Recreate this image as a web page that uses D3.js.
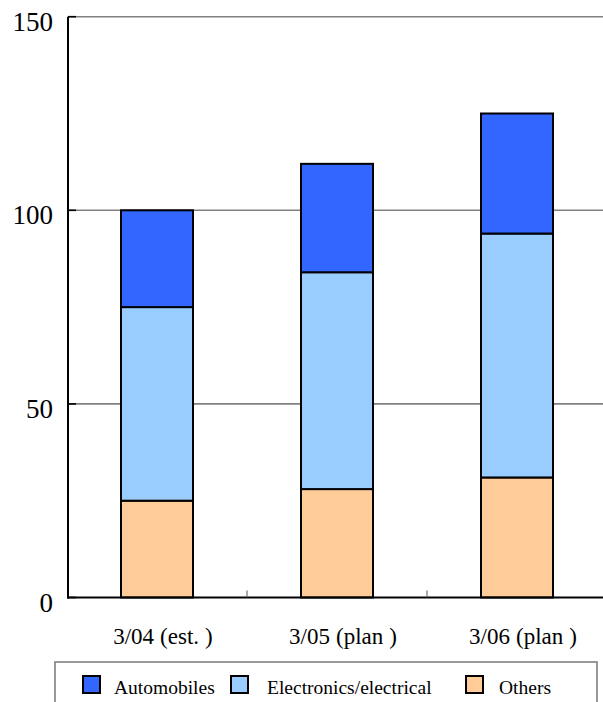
<!DOCTYPE html>
<html>
<head>
<meta charset="utf-8">
<script src="https://cdn.jsdelivr.net/npm/d3@7/dist/d3.min.js"></script>
<style>
  html, body { margin: 0; padding: 0; background: #fff; }
  svg { display: block; }
</style>
</head>
<body>
<svg id="chart" width="603" height="702"></svg>
<script>
// Fiscal periods on the horizontal axis
const categories = ["3/04", "3/05", "3/06"];
const categoryNotes = ["est.", "plan", "plan"];

// Stacked segments, bottom to top
const seriesNames = ["Others", "Electronics/electrical", "Automobiles"];
const others = [25, 28, 31];
const electronics = [50, 56, 63];
const automobiles = [25, 28, 31];

const yTicks = [0, 50, 100, 150];

const colors = {
  "Automobiles": "#3366ff",
  "Electronics/electrical": "#99ccff",
  "Others": "#ffcc99"
};
const legendOrder = ["Automobiles", "Electronics/electrical", "Others"];

const rows = categories.map((c, i) => ({
  cat: c,
  "Others": others[i],
  "Electronics/electrical": electronics[i],
  "Automobiles": automobiles[i]
}));

const svg = d3.select("#chart");
const serif = "'Liberation Serif', 'Times New Roman', Times, serif";

const x = d3.scaleBand().domain(categories).range([67, 607]).padding(0);
const y = d3.scaleLinear().domain([0, 150]).range([597.5, 16.7]);
const barW = 72;

// Horizontal gridlines
svg.append("g").selectAll("line")
  .data(yTicks.filter(d => d > 0))
  .join("line")
  .attr("x1", 68).attr("x2", 603)
  .attr("y1", d => y(d)).attr("y2", d => y(d))
  .attr("stroke", "#808080").attr("stroke-width", 1.6);

// Stacked bars
const stack = d3.stack().keys(seriesNames);
const layers = stack(rows);
svg.append("g").selectAll("g")
  .data(layers)
  .join("g")
  .attr("fill", d => colors[d.key])
  .selectAll("rect")
  .data(d => d)
  .join("rect")
  .attr("x", d => x(d.data.cat) + x.bandwidth() / 2 - barW / 2)
  .attr("width", barW)
  .attr("y", d => y(d[1]))
  .attr("height", d => y(d[0]) - y(d[1]))
  .attr("stroke", "#000")
  .attr("stroke-width", 2);

// Y axis: line, inward ticks, labels
const yAxis = svg.append("g");
yAxis.append("line")
  .attr("x1", 68).attr("x2", 68)
  .attr("y1", y(150)).attr("y2", y(0) + 1)
  .attr("stroke", "#000").attr("stroke-width", 2);
yAxis.selectAll("line.tick")
  .data(yTicks)
  .join("line")
  .attr("class", "tick")
  .attr("x1", 68).attr("x2", 76)
  .attr("y1", d => y(d)).attr("y2", d => y(d))
  .attr("stroke", "#000").attr("stroke-width", 1.6);
yAxis.selectAll("text")
  .data(yTicks)
  .join("text")
  .attr("x", 53)
  .attr("y", d => y(d) + 14)
  .attr("text-anchor", "end")
  .attr("font-family", serif)
  .attr("font-size", 27)
  .text(d => d);

// X axis: baseline, separators between categories, labels
const xAxis = svg.append("g");
xAxis.append("line")
  .attr("x1", 67).attr("x2", 603)
  .attr("y1", y(0)).attr("y2", y(0))
  .attr("stroke", "#000").attr("stroke-width", 2);
xAxis.selectAll("line.sep")
  .data(categories.slice(1))
  .join("line")
  .attr("class", "sep")
  .attr("x1", d => x(d)).attr("x2", d => x(d))
  .attr("y1", y(0)).attr("y2", y(0) - 7)
  .attr("stroke", "#555").attr("stroke-width", 1);
const labels = xAxis.selectAll("text")
  .data(categories)
  .join("text")
  .attr("x", d => x(d) + x.bandwidth() / 2 + 6)
  .attr("y", 644)
  .attr("text-anchor", "middle")
  .attr("font-family", serif)
  .attr("font-size", 23);
labels.append("tspan").text(d => d);
labels.append("tspan").attr("dx", 6).text("(");
labels.append("tspan").text((d, i) => categoryNotes[i]);
labels.append("tspan").attr("dx", 6).text(")");

// Legend
const legend = svg.append("g");
legend.append("rect")
  .attr("x", 55).attr("y", 662)
  .attr("width", 542).attr("height", 60)
  .attr("fill", "#fff")
  .attr("stroke", "#808080").attr("stroke-width", 1.6);
const swatchX = [83, 231, 466];
const labelX = [114, 267, 499];
const items = legend.selectAll("g.item")
  .data(legendOrder)
  .join("g")
  .attr("class", "item");
items.append("rect")
  .attr("x", (d, i) => swatchX[i]).attr("y", 676)
  .attr("width", 17).attr("height", 17)
  .attr("fill", d => colors[d])
  .attr("stroke", "#000").attr("stroke-width", 2);
items.append("text")
  .attr("x", (d, i) => labelX[i]).attr("y", 694)
  .attr("font-family", serif)
  .attr("font-size", 19.5)
  .text(d => d);
</script>
</body>
</html>
